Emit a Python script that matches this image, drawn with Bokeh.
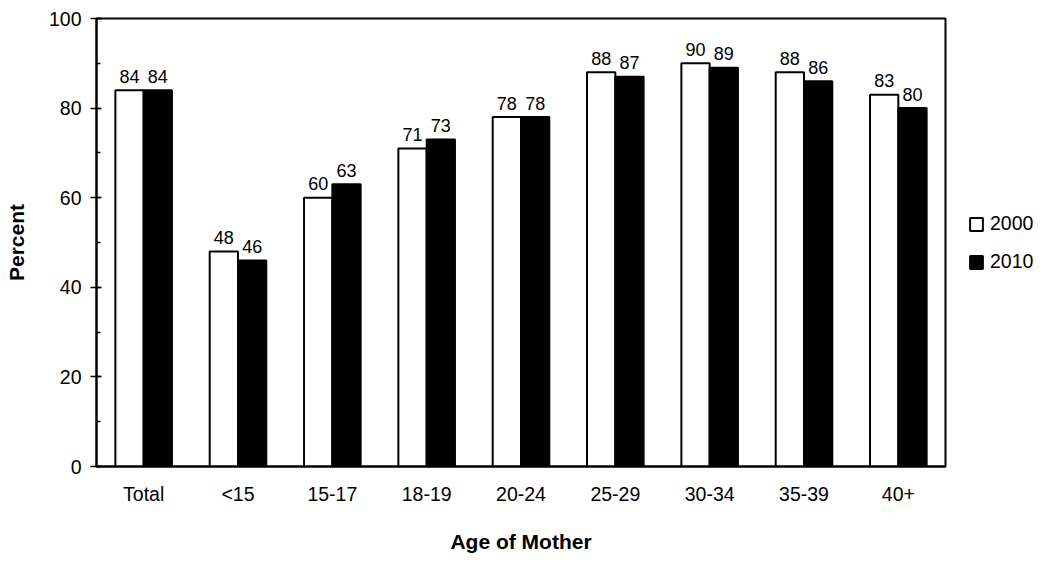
from bokeh.plotting import figure
from bokeh.layouts import row
from bokeh.models import (ColumnDataSource, Range1d, FactorRange, SingleIntervalTicker,
                          Legend, LegendItem)
from bokeh.transform import dodge
from bokeh.core.properties import value
from bokeh.embed import file_html
from bokeh.resources import INLINE

categories = ["Total", "<15", "15-17", "18-19", "20-24", "25-29", "30-34", "35-39", "40+"]
y2000 = [84, 48, 60, 71, 78, 88, 90, 88, 83]
y2010 = [84, 46, 63, 73, 78, 87, 89, 86, 80]
series_names = ["2000", "2010"]

FONT = "Liberation Sans"

src = ColumnDataSource(dict(cat=categories, a=y2000, b=y2010,
                            la=[str(v) for v in y2000], lb=[str(v) for v in y2010]))

p = figure(width=947, height=555, x_range=FactorRange(*categories, range_padding=0),
           y_range=Range1d(0, 100), output_backend="svg", toolbar_location=None,
           min_border_left=96, min_border_right=2, min_border_top=18, min_border_bottom=88)

p.xgrid.visible = False
p.ygrid.visible = False
p.outline_line_color = "black"
p.outline_line_width = 2
p.background_fill_color = "white"
p.border_fill_color = "white"

r1 = p.vbar(x=dodge("cat", -0.15, range=p.x_range), top="a", width=0.3, source=src,
            fill_color="white", line_color="black", line_width=2)
r2 = p.vbar(x=dodge("cat", 0.15, range=p.x_range), top="b", width=0.3, source=src,
            fill_color="black", line_color="black", line_width=2)

for col, lab, off in (("a", "la", -0.15), ("b", "lb", 0.15)):
    p.text(x=dodge("cat", off, range=p.x_range), y=col, text=lab, source=src,
           text_font=value(FONT), text_font_size="18px", text_align="center",
           text_baseline="alphabetic", y_offset=-14, text_color="black")

# axes
xa = p.xaxis[0]
xa.axis_label = "Age of Mother"
xa.axis_label_text_font = FONT
xa.axis_label_text_font_style = "bold"
xa.axis_label_text_font_size = "21px"
xa.axis_label_text_color = "black"
xa.axis_label_standoff = 22
xa.major_label_text_font = FONT
xa.major_label_text_font_size = "19.5px"
xa.major_label_text_color = "black"
xa.major_label_standoff = 16
xa.major_tick_in = 0
xa.major_tick_out = 0
xa.axis_line_width = 2
xa.axis_line_color = "black"

ya = p.yaxis[0]
ya.ticker = SingleIntervalTicker(interval=20, num_minor_ticks=2)
ya.axis_label = "Percent"
ya.axis_label_text_font = FONT
ya.axis_label_text_font_style = "bold"
ya.axis_label_text_font_size = "21px"
ya.axis_label_text_color = "black"
ya.axis_label_standoff = 18
ya.major_label_text_font = FONT
ya.major_label_text_font_size = "19.5px"
ya.major_label_text_color = "black"
ya.major_label_standoff = 9
ya.major_tick_out = 6
ya.major_tick_in = 5
ya.minor_tick_out = 0
ya.minor_tick_in = 4
ya.major_tick_line_width = 1.5
ya.minor_tick_line_width = 1.5
ya.major_tick_line_color = "black"
ya.minor_tick_line_color = "black"
ya.axis_line_width = 2
ya.axis_line_color = "black"

# legend panel (separate narrow figure to the right of the plot frame)
lg = figure(width=90, height=555, output_backend="svg", toolbar_location=None,
            x_range=Range1d(0, 1), y_range=Range1d(0, 1),
            min_border_left=0, min_border_right=0, min_border_top=0, min_border_bottom=0)
lg.axis.visible = False
lg.xgrid.visible = False
lg.ygrid.visible = False
lg.outline_line_color = None
lg.background_fill_color = "white"
lg.border_fill_color = "white"
# renderers used only for the legend swatches (no drawable data)
nan = float("nan")
dummy = ColumnDataSource(dict(x=[nan], top=[nan]))
g1 = lg.vbar(x="x", top="top", width=0.1, source=dummy,
             fill_color="white", line_color="black", line_width=2)
g2 = lg.vbar(x="x", top="top", width=0.1, source=dummy,
             fill_color="black", line_color="black", line_width=2)

legend = Legend(items=[LegendItem(label=series_names[0], renderers=[g1]),
                       LegendItem(label=series_names[1], renderers=[g2])],
                location=(21, 193), margin=0, padding=0, spacing=15,
                glyph_width=16, glyph_height=16, label_height=22, label_standoff=6,
                label_text_font=FONT, label_text_font_size="19.5px",
                label_text_color="black", label_text_baseline="middle",
                border_line_color=None, background_fill_alpha=0)
lg.add_layout(legend, "center")

layout = row(p, lg, spacing=0)
open("out.html", "w").write(file_html(layout, INLINE))
